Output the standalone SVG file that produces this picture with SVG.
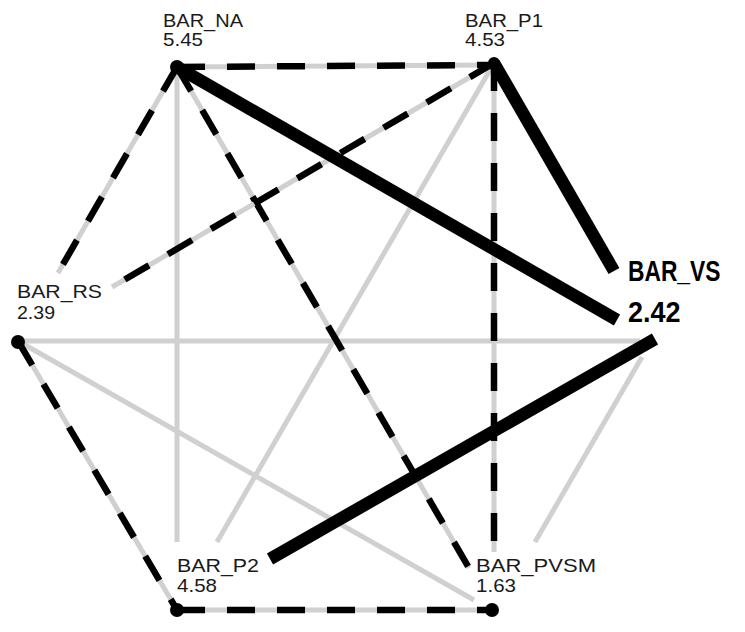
<svg xmlns="http://www.w3.org/2000/svg" width="745" height="632" viewBox="0 0 745 632">
<style>
.bg{fill:#fff}
.g{stroke:#d0d0d0;stroke-width:5;fill:none}
.d{stroke:#000;stroke-width:6.5;stroke-dasharray:28 22;fill:none}
.t{stroke:#000;stroke-width:12.5;fill:none}
.n{fill:#000}
.lbl{font-family:"Liberation Sans",Arial,sans-serif;font-size:19px;fill:#1a1a1a}
.vs{font-family:"Liberation Sans",Arial,sans-serif;font-size:30px;font-weight:bold;fill:#000}
</style>
<rect class="bg" x="0" y="0" width="745" height="632"/>
<g id="edges">
  <line class="g" x1="177" y1="67" x2="177" y2="542"/>
  <line class="g" x1="494" y1="63" x2="217" y2="542"/>
  <line class="g" x1="18" y1="341" x2="640" y2="341"/>
  <line class="g" x1="18" y1="341" x2="474" y2="600"/>
  <line class="g" x1="642" y1="357" x2="535" y2="542"/>
  <line class="g" x1="177" y1="67" x2="490" y2="65"/>
  <line class="d" x1="177" y1="67" x2="490" y2="65"/>
  <line class="g" x1="177" y1="67" x2="58" y2="273"/>
  <line class="d" x1="177" y1="67" x2="58" y2="273"/>
  <line class="g" x1="177" y1="67" x2="469" y2="568"/>
  <line class="d" x1="177" y1="67" x2="469" y2="568"/>
  <line class="g" x1="494" y1="63" x2="112" y2="287"/>
  <line class="d" x1="494" y1="63" x2="112" y2="287"/>
  <line class="g" x1="494" y1="63" x2="494" y2="552"/>
  <line class="d" x1="494" y1="63" x2="494" y2="552"/>
  <line class="g" x1="18" y1="341" x2="177" y2="610"/>
  <line class="d" x1="18" y1="341" x2="177" y2="610"/>
  <line class="g" x1="177" y1="610" x2="492" y2="610"/>
  <line class="d" x1="177" y1="610" x2="492" y2="610"/>
  <line class="t" x1="177" y1="67" x2="617" y2="320"/>
  <line class="t" x1="494" y1="63" x2="614" y2="271"/>
  <line class="t" x1="270" y1="559" x2="655" y2="339"/>
</g>
<g id="BAR_NA">
  <circle class="n" cx="177" cy="67" r="7"/>
  <text class="lbl" x="163" y="27" textLength="80" lengthAdjust="spacingAndGlyphs">BAR_NA</text>
  <text class="lbl" x="163" y="46" textLength="40" lengthAdjust="spacingAndGlyphs">5.45</text>
</g>
<g id="BAR_P1">
  <circle class="n" cx="494" cy="63" r="6"/>
  <text class="lbl" x="465" y="27" textLength="78" lengthAdjust="spacingAndGlyphs">BAR_P1</text>
  <text class="lbl" x="465" y="46" textLength="40" lengthAdjust="spacingAndGlyphs">4.53</text>
</g>
<g id="BAR_VS">
  <text class="vs" transform="translate(628,281) scale(0.76,1)" x="0" y="0">BAR_VS</text>
  <text class="vs" transform="translate(628,322) scale(0.9,1)" x="0" y="0">2.42</text>
</g>
<g id="BAR_RS">
  <circle class="n" cx="18" cy="342" r="7"/>
  <text class="lbl" x="17" y="298" textLength="85" lengthAdjust="spacingAndGlyphs">BAR_RS</text>
  <text class="lbl" x="17" y="319" textLength="38" lengthAdjust="spacingAndGlyphs">2.39</text>
</g>
<g id="BAR_P2">
  <circle class="n" cx="177" cy="610" r="7"/>
  <text class="lbl" x="177" y="572" textLength="82" lengthAdjust="spacingAndGlyphs">BAR_P2</text>
  <text class="lbl" x="177" y="592" textLength="40" lengthAdjust="spacingAndGlyphs">4.58</text>
</g>
<g id="BAR_PVSM">
  <circle class="n" cx="492" cy="610" r="7"/>
  <text class="lbl" x="476" y="572" textLength="120" lengthAdjust="spacingAndGlyphs">BAR_PVSM</text>
  <text class="lbl" x="476" y="592" textLength="40" lengthAdjust="spacingAndGlyphs">1.63</text>
</g>
</svg>
